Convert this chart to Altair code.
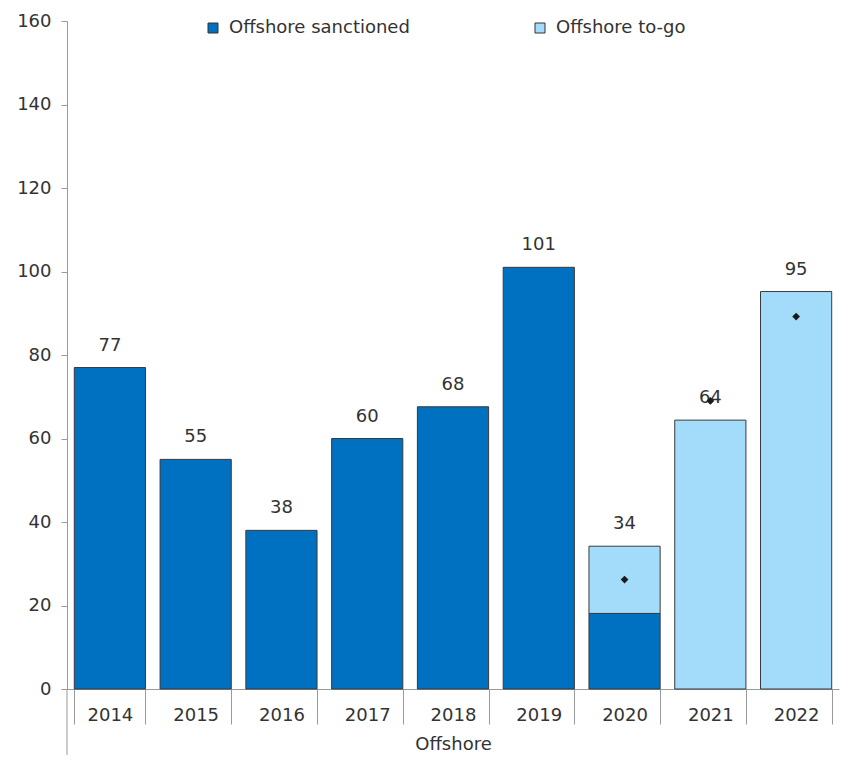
import altair as alt
import pandas as pd

years = ["2014", "2015", "2016", "2017", "2018", "2019", "2020", "2021", "2022"]
sanctioned = [77, 55, 38, 60, 67.6, 101, 18.1, 0, 0]
to_go = [0, 0, 0, 0, 0, 0, 16.1, 64.4, 95.2]
total_labels = [77, 55, 38, 60, 68, 101, 34, 64, 95]
markers = [None, None, None, None, None, None, 26.2, 69, 89.2]
series_names = ["Offshore sanctioned", "Offshore to-go"]
colors = ["#0070C0", "#A3DCFB"]

W, H = 772, 668
FONT = "DejaVu Sans"
FS = 18

rows = []
for i, y in enumerate(years):
    if sanctioned[i] > 0:
        rows.append({"year": y, "series": series_names[0], "value": sanctioned[i], "ord": 0})
    if to_go[i] > 0:
        rows.append({"year": y, "series": series_names[1], "value": to_go[i], "ord": 1})
bars_df = pd.DataFrame(rows)

lab_df = pd.DataFrame({
    "year": years,
    "total": [s + t for s, t in zip(sanctioned, to_go)],
    "label": [str(v) for v in total_labels],
})
mk_df = pd.DataFrame({"year": years, "m": markers}).dropna()

x_enc = alt.X("year:N", sort=years, scale=alt.Scale(paddingInner=0.17, paddingOuter=0.085),
              axis=alt.Axis(title="Offshore", labelAngle=0, tickBand="extent", tickSize=35,
                            labelPadding=-18, domainColor="#9a9a9a", tickColor="#9a9a9a",
                            labelFontSize=FS, labelColor="#333333", titleFontSize=FS,
                            titleFontWeight="normal", titleColor="#333333", titlePadding=11,
                            labelFont=FONT, titleFont=FONT))

bars = alt.Chart(bars_df).mark_bar(stroke="#3a3a3a", strokeWidth=1).encode(
    x=x_enc,
    y=alt.Y("value:Q", stack="zero",
            scale=alt.Scale(domain=[0, 160], nice=False),
            axis=alt.Axis(title=None, values=list(range(0, 161, 20)), grid=False,
                          tickSize=6, labelPadding=10, domainColor="#9a9a9a",
                          tickColor="#9a9a9a", labelFontSize=FS, labelColor="#333333",
                          labelFont=FONT)),
    color=alt.Color("series:N", scale=alt.Scale(domain=series_names, range=colors),
                    legend=alt.Legend(title=None, orient="none", legendX=137, legendY=-2,
                                      direction="horizontal", columnPadding=121,
                                      symbolType="square", symbolSize=100,
                                      symbolStrokeColor="#333333", symbolStrokeWidth=1,
                                      labelFontSize=FS, labelColor="#333333",
                                      labelFont=FONT, labelOffset=7, labelLimit=0)),
    order=alt.Order("ord:Q"),
)

labels = alt.Chart(lab_df).mark_text(fontSize=FS, font=FONT, color="#333333",
                                     baseline="middle", dy=-22).encode(
    x=alt.X("year:N", sort=years),
    y=alt.Y("total:Q"),
    text="label:N",
)

pts = alt.Chart(mk_df).mark_point(shape="diamond", filled=True, color="#1a1a1a",
                                  size=60, opacity=1).encode(
    x=alt.X("year:N", sort=years),
    y=alt.Y("m:Q"),
)

ext = alt.Chart(pd.DataFrame({"a": [0]})).mark_rule(color="#9a9a9a", strokeWidth=1).encode(
    x=alt.value(0), y=alt.value(H), y2=alt.value(H + 66)
)

chart = alt.layer(bars, labels, pts, ext).properties(
    width=W, height=H,
    padding={"left": 8, "top": 4, "right": 3, "bottom": 0},
).configure(font=FONT).configure_view(stroke=None)

chart.save("out.html", embed_options={"renderer": "svg", "actions": False})
